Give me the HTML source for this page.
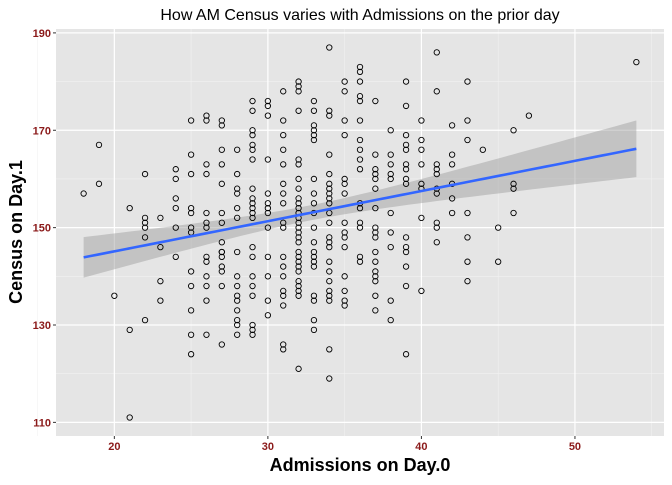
<!DOCTYPE html>
<html><head><meta charset="utf-8"><style>
body{margin:0;background:#fff;font-family:"Liberation Sans",sans-serif}
</style></head><body>
<svg id="c" width="672" height="480" xmlns="http://www.w3.org/2000/svg"></svg>
<script>
const xs=[18,19,19,20,21,21,21,22,22,22,22,22,22,23,23,23,23,24,24,24,24,24,24,
25,25,25,25,25,25,25,25,25,25,25,25,
26,26,26,26,26,26,26,26,26,26,26,26,26,
27,27,27,27,27,27,27,27,27,27,27,27,27,27,27,
28,28,28,28,28,28,28,28,28,28,28,28,28,28,28,
29,29,29,29,29,29,29,29,29,29,29,29,29,29,29,29,29,29,29,29,29,
30,30,30,30,30,30,30,30,30,30,30,30,30,
31,31,31,31,31,31,31,31,31,31,31,31,31,31,31,31,31,31,
32,32,32,32,32,32,32,32,32,32,32,32,32,32,32,32,32,32,32,32,32,32,32,32,32,32,32,32,
33,33,33,33,33,33,33,33,33,33,33,33,33,33,33,33,33,33,33,33,
34,34,34,34,34,34,34,34,34,34,34,34,34,34,34,34,34,34,34,34,34,34,34,
35,35,35,35,35,35,35,35,35,35,35,35,35,35,35,
36,36,36,36,36,36,36,36,36,36,36,36,36,36,36,36,
37,37,37,37,37,37,37,37,37,37,37,37,37,37,37,37,37,
38,38,38,38,38,38,38,38,38,38,
39,39,39,39,39,39,39,39,39,39,39,39,39,39,39,
40,40,40,40,40,40,40,40,
41,41,41,41,41,41,41,41,41,41,
42,42,42,42,42,42,43,43,43,43,43,43,43,44,45,45,46,46,46,46,47,54];
const ys=[157,167,159,136,154,129,111,161,152,151,150,148,131,152,146,139,135,162,160,156,154,150,144,
172,165,161,154,153,150,149,141,138,133,124,128,
173,172,163,161,153,151,150,144,143,140,138,135,128,
172,171,166,163,159,153,151,147,145,144,142,141,138,126,145,
166,161,158,157,154,152,145,140,138,136,135,133,131,130,128,
176,174,170,169,167,166,164,158,156,155,154,153,152,146,144,140,138,136,130,129,128,
176,175,173,164,157,155,154,153,150,144,140,135,132,
178,172,169,166,163,159,157,155,151,150,144,142,140,137,136,134,126,125,
180,179,178,174,164,163,160,158,156,155,154,153,152,151,150,149,148,147,145,144,143,142,141,139,138,137,136,121,
176,174,171,170,169,168,160,157,155,153,150,147,145,144,143,142,136,135,131,129,
187,174,173,165,161,159,158,157,156,155,153,151,148,147,146,143,141,139,137,136,135,125,119,
180,178,172,169,160,159,157,151,149,148,146,140,137,135,134,
183,182,180,177,176,172,168,166,164,162,155,154,151,150,144,143,
176,165,162,161,160,158,154,150,149,148,145,143,141,140,139,136,133,
170,165,163,161,160,153,149,146,135,131,
180,175,169,167,166,163,162,160,159,148,146,145,142,138,124,
172,168,166,163,159,158,152,137,
186,178,163,162,161,158,157,151,150,147,
171,165,163,159,156,153,180,172,168,153,148,143,139,166,150,143,170,159,158,153,173,184];
const xTicks=[20,30,40,50];
const yTicks=[110,130,150,170,190];
const NS="http://www.w3.org/2000/svg";
const svg=document.getElementById('c');
const L=56,R=664,T=29,B=436;
const x0=16.2,x1=55.8,y0=107.2,y1=190.8;
const sx=v=>L+(v-x0)/(x1-x0)*(R-L);
const sy=v=>B-(v-y0)/(y1-y0)*(B-T);
function el(t,a,txt){const e=document.createElementNS(NS,t);for(const k in a)e.setAttribute(k,a[k]);if(txt!==undefined)e.textContent=txt;svg.appendChild(e);return e;}
let p=el('rect',{x:L,y:T,width:R-L,height:B-T,fill:'#e5e5e5'});


for(let i=0;i<xTicks.length;i++){const m=xTicks[i]-5;const g=el('line',{x1:sx(m),x2:sx(m),y1:T,y2:B,stroke:'#f2f2f2','stroke-width':0.6});}
el('line',{x1:sx(55),x2:sx(55),y1:T,y2:B,stroke:'#f2f2f2','stroke-width':0.6});
for(let i=0;i<yTicks.length-1;i++){const m=yTicks[i]+10;const g=el('line',{x1:L,x2:R,y1:sy(m),y2:sy(m),stroke:'#f2f2f2','stroke-width':0.6});}
xTicks.forEach(t=>{const g=el('line',{x1:sx(t),x2:sx(t),y1:T,y2:B,stroke:'#fff','stroke-width':1.2});
el('line',{x1:sx(t),x2:sx(t),y1:B,y2:B+3,stroke:'#333','stroke-width':1});
const lb=el('text',{x:sx(t),y:B+14,'text-anchor':'middle','font-size':11,'font-weight':'bold',fill:'#8b1a1a'},t);});
yTicks.forEach(t=>{const g=el('line',{x1:L,x2:R,y1:sy(t),y2:sy(t),stroke:'#fff','stroke-width':1.2});
el('line',{x1:L-3,x2:L,y1:sy(t),y2:sy(t),stroke:'#333','stroke-width':1});
const lb=el('text',{x:L-5,y:sy(t)+4,'text-anchor':'end','font-size':11,'font-weight':'bold',fill:'#8b1a1a'},t);});
const n=xs.length;const mx=xs.reduce((a,b)=>a+b)/n,my=ys.reduce((a,b)=>a+b)/n;
let sxx=0,sxy=0;for(let i=0;i<n;i++){sxx+=(xs[i]-mx)**2;sxy+=(xs[i]-mx)*(ys[i]-my);}
const b1=sxy/sxx,b0=my-b1*mx;let sse=0;for(let i=0;i<n;i++)sse+=(ys[i]-b0-b1*xs[i])**2;
const s=Math.sqrt(sse/(n-2));const xmin=Math.min(...xs),xmax=Math.max(...xs);
let up=[],lo=[],ln=[];for(let k=0;k<=80;k++){const xv=xmin+(xmax-xmin)*k/80;const f=b0+b1*xv;const se=1.97*s*Math.sqrt(1/n+(xv-mx)**2/sxx);up.push(sx(xv)+','+sy(f+se));lo.unshift(sx(xv)+','+sy(f-se));ln.push(sx(xv)+','+sy(f));}
const band=el('polygon',{points:up.concat(lo).join(' '),fill:'#999',opacity:0.45});


for(let i=0;i<n;i++){const c=el('circle',{cx:sx(xs[i]),cy:sy(ys[i]),r:2.7,fill:'none',stroke:'#000','stroke-width':0.9});

}
const fl=el('polyline',{points:ln.join(' '),fill:'none',stroke:'#3366ff','stroke-width':2.6});


const tt=el('text',{x:360,y:20,'text-anchor':'middle','font-size':16,fill:'#000'},'How AM Census varies with Admissions on the prior day');


const xt=el('text',{x:360,y:471,'text-anchor':'middle','font-size':18,'font-weight':'bold',fill:'#000'},'Admissions on Day.0');


const yt=el('text',{x:0,y:0,'text-anchor':'middle','font-size':18,'font-weight':'bold',fill:'#000',transform:'translate(22,232) rotate(-90)'},'Census on Day.1');


</script>
</body></html>
